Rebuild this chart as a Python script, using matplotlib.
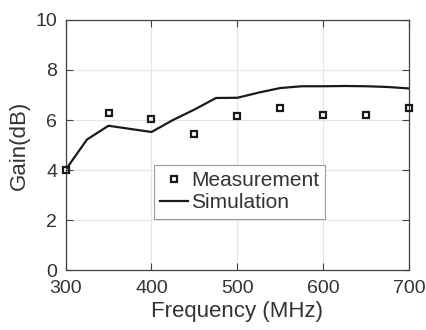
import matplotlib
matplotlib.use("Agg")
import matplotlib.pyplot as plt

plt.rcParams['font.family'] = ['Liberation Sans', 'DejaVu Sans']

meas_freq = [300, 350, 400, 450, 500, 550, 600, 650, 700]
meas_gain = [4.0, 6.3, 6.03, 5.45, 6.15, 6.47, 6.22, 6.22, 6.47]

sim_freq = [300, 325, 350, 400, 425, 450, 475, 500, 525, 550, 575, 600, 625, 650, 675, 700]
sim_gain = [4.0, 5.22, 5.77, 5.52, 6.0, 6.42, 6.88, 6.89, 7.1, 7.28, 7.35, 7.35, 7.36, 7.35, 7.32, 7.26]

xticks = [300, 400, 500, 600, 700]
yticks = [0, 2, 4, 6, 8, 10]

txt = '#333333'
fig = plt.figure(figsize=(4.27, 3.30), dpi=100)
ax = fig.add_axes([0.1534, 0.1818, 0.8056, 0.7576])

ax.plot(meas_freq, meas_gain, linestyle='none', marker='s', markersize=5,
        markerfacecolor='none', markeredgecolor='#1a1a1a', markeredgewidth=1.6,
        label='Measurement', clip_on=False, zorder=3)
ax.plot(sim_freq, sim_gain, color='#1a1a1a', linewidth=1.6, label='Simulation', zorder=2)

ax.set_xlim(300, 700)
ax.set_ylim(0, 10)
ax.set_xticks(xticks)
ax.set_yticks(yticks)
ax.grid(True, color='#e6e6e6', linewidth=0.8)
ax.set_axisbelow(True)
ax.tick_params(direction='in', top=True, right=True, length=5, width=0.8,
               colors='#404040', labelcolor=txt, labelsize=14)
ax.tick_params(axis='x', pad=7)
ax.tick_params(axis='y', pad=6)
for s in ax.spines.values():
    s.set_color('#404040')
    s.set_linewidth(0.9)

ax.set_xlabel('Frequency (MHz)', fontsize=16, color=txt, labelpad=3)
ax.set_ylabel('Gain(dB)', fontsize=16, color=txt, labelpad=4)

leg = ax.legend(loc='upper left', bbox_to_anchor=(0.257, 0.42), fontsize=15,
                frameon=True, fancybox=False, edgecolor='#9a9a9a', framealpha=1,
                handlelength=1.35, handletextpad=0.12, borderpad=0.3,
                borderaxespad=0, labelspacing=0.15)
leg.get_frame().set_linewidth(0.8)
for t in leg.get_texts():
    t.set_color(txt)

fig.savefig('out.png', dpi=100)
